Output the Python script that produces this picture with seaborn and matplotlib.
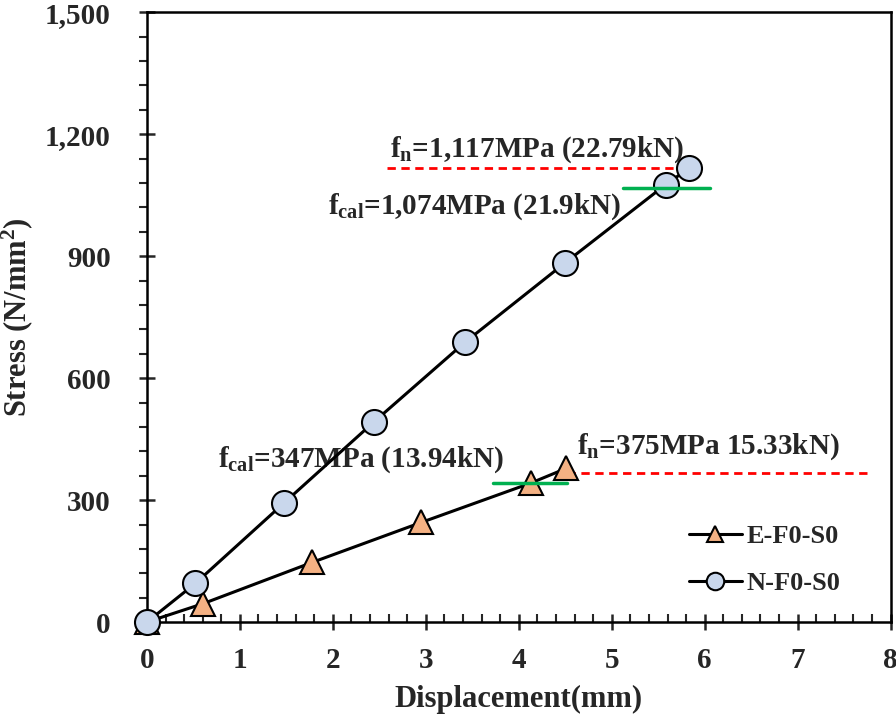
import numpy as np
import seaborn as sns
import matplotlib.pyplot as plt
from matplotlib.ticker import MultipleLocator

# data
e_disp = [0.0, 0.6, 1.78, 2.95, 4.13, 4.51]
e_stress = [0, 45, 147, 245, 342, 378]
n_disp = [0.0, 0.52, 1.47, 2.44, 3.42, 4.5, 5.58, 5.83]
n_stress = [0, 95, 292, 492, 688, 884, 1076, 1116]

y_ticks = [0, 300, 600, 900, 1200, 1500]
y_labels = ['0', '300', '600', '900', '1,200', '1,500']
x_ticks = [0, 1, 2, 3, 4, 5, 6, 7, 8]

# reference levels: (value, x start, x end)
n_fn = (1117, 2.58, 5.85)
n_fcal = (1067, 5.12, 6.06)
e_fn = (366, 4.52, 7.75)
e_fcal = (342, 3.72, 4.52)

sns.set_style('ticks')
plt.rcParams['font.family'] = ['Liberation Serif', 'DejaVu Serif']
plt.rcParams['font.weight'] = 'bold'
plt.rcParams['mathtext.fontset'] = 'custom'
plt.rcParams['mathtext.rm'] = 'Liberation Serif:bold'
plt.rcParams['mathtext.it'] = 'Liberation Serif:bold'
plt.rcParams['mathtext.bf'] = 'Liberation Serif:bold'

fig = plt.figure(figsize=(8.96, 7.2), dpi=100)
ax = fig.add_axes([0.164, 0.136, 0.830, 0.847])

# reference lines
ax.plot([n_fn[1], n_fn[2]], [n_fn[0]] * 2, color='#ff0000', lw=2, dashes=(3, 2), zorder=2)
ax.plot([e_fn[1], e_fn[2]], [e_fn[0]] * 2, color='#ff0000', lw=2, dashes=(3, 2), zorder=2)

sns.lineplot(x=e_disp, y=e_stress, ax=ax, sort=False, color='black', lw=2.2,
             marker='^', markersize=17, markerfacecolor='#f4b183',
             markeredgecolor='black', markeredgewidth=1.5, label='E-F0-S0',
             clip_on=False, zorder=3)
sns.lineplot(x=n_disp, y=n_stress, ax=ax, sort=False, color='black', lw=2.2,
             marker='o', markersize=18, markerfacecolor='#c9d7ec',
             markeredgecolor='black', markeredgewidth=1.5, label='N-F0-S0',
             clip_on=False, zorder=4)

ax.plot([n_fcal[1], n_fcal[2]], [n_fcal[0]] * 2, color='#00b050', lw=2.5, zorder=5)
ax.plot([e_fcal[1], e_fcal[2]], [e_fcal[0]] * 2, color='#00b050', lw=2.5, zorder=5)

txt = dict(fontsize=21, fontweight='bold', va='center', ha='left')
ax.text(2.61, 1162, 'f$_{\\mathrm{n}}$=1,117MPa (22.79kN)', **txt)
ax.text(1.95, 1022, 'f$_{\\mathrm{cal}}$=1,074MPa (21.9kN)', **txt)
ax.text(0.76, 400, 'f$_{\\mathrm{cal}}$=347MPa (13.94kN)', **txt)
ax.text(4.63, 432, 'f$_{\\mathrm{n}}$=375MPa 15.33kN)', **txt)

ax.set_xlim(0, 8)
ax.set_ylim(0, 1500)
ax.set_xticks(x_ticks)
ax.set_yticks(y_ticks)
ax.set_yticklabels(y_labels)
ax.xaxis.set_minor_locator(MultipleLocator(0.2))
ax.yaxis.set_minor_locator(MultipleLocator(60))
ax.tick_params(axis='both', which='major', direction='inout', length=12, width=1.8,
               labelsize=21)
ax.tick_params(axis='x', which='major', pad=12)
ax.tick_params(axis='y', which='major', pad=20)
ax.tick_params(axis='x', which='minor', direction='in', length=6, width=1.5)
ax.tick_params(axis='y', which='minor', direction='out', length=6, width=1.5)
for lab in ax.get_xticklabels() + ax.get_yticklabels():
    lab.set_fontweight('bold')
for s in ax.spines.values():
    s.set_linewidth(1.8)
    s.set_color('black')

ax.set_xlabel('Displacement(mm)', fontsize=22, fontweight='bold', labelpad=8)
ax.set_ylabel('Stress (N/mm$^{\\mathrm{2}}$)', fontsize=22, fontweight='bold', labelpad=7)

ax.legend(loc='lower right', bbox_to_anchor=(0.965, 0.005), frameon=False,
          fontsize=19, handlelength=2.0, labelspacing=0.9, handletextpad=0.2,
          markerscale=0.7)

fig.savefig('out.png', dpi=100)
